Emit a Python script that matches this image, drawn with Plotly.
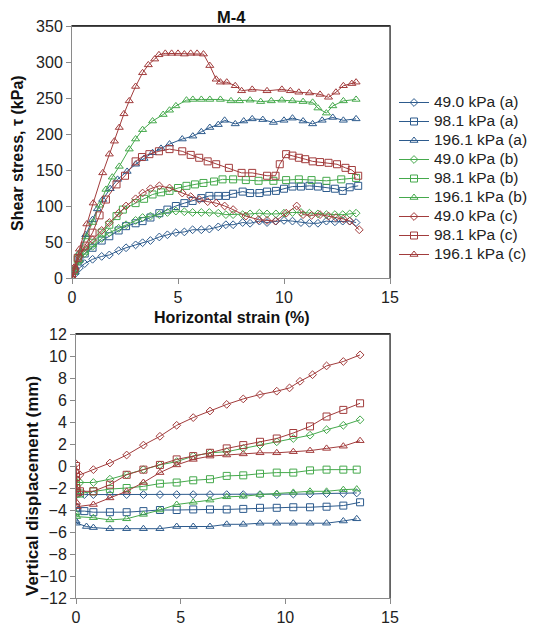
import plotly.graph_objects as go

# ---------------- data: shear stress vs horizontal strain ----------------
names = ["49.0 kPa (a)", "98.1 kPa (a)", "196.1 kPa (a)",
         "49.0 kPa (b)", "98.1 kPa (b)", "196.1 kPa (b)",
         "49.0 kPa (c)", "98.1 kPa (c)", "196.1 kPa (c)"]

tau_a49_x = [0, 0.15, 0.35, 0.6, 0.97, 1.4, 1.76, 2.2, 2.55, 3.0, 3.33, 3.7, 4.12, 4.5, 4.9, 5.3, 5.69, 6.1, 6.48, 6.9, 7.26, 7.6, 8.05, 8.4, 8.84, 9.2, 9.62, 10.0, 10.4, 10.8, 11.2, 11.6, 12.0, 12.4, 12.77, 13.1, 13.4]
tau_a49_y = [0, 6, 14, 20, 26, 30, 32, 38, 42, 46, 49, 52, 57, 60, 63, 64, 67, 67, 68, 71, 74, 74, 77, 76, 79, 77, 79, 80, 79, 77, 76, 76, 79, 78, 79, 79, 77]

tau_a98_x = [0, 0.15, 0.35, 0.6, 0.97, 1.4, 1.76, 2.2, 2.55, 3.0, 3.33, 3.7, 4.12, 4.5, 4.9, 5.3, 5.69, 6.1, 6.48, 6.9, 7.26, 7.6, 8.05, 8.4, 8.84, 9.2, 9.62, 10.0, 10.4, 10.8, 11.2, 11.6, 12.0, 12.4, 12.77, 13.1, 13.5]
tau_a98_y = [0, 10, 26, 34, 42, 52, 58, 66, 72, 76, 79, 84, 90, 95, 100, 104, 107, 111, 114, 114, 114, 117, 120, 118, 118, 120, 121, 124, 127, 127, 128, 127, 125, 124, 121, 126, 128]

tau_a196_x = [0, 0.1, 0.35, 0.65, 0.97, 1.2, 1.45, 1.8, 2.15, 2.6, 3.0, 3.4, 3.8, 4.2, 4.6, 5.2, 5.7, 6.1, 6.5, 6.9, 7.2, 7.7, 8.1, 8.5, 9.0, 9.5, 10.0, 10.4, 10.9, 11.35, 11.8, 12.3, 12.8, 13.4]
tau_a196_y = [0, 12, 35, 60, 81, 96, 109, 124, 137, 148, 158, 166, 174, 180, 186, 193, 197, 203, 209, 213, 219, 214, 218, 221, 220, 216, 219, 222, 218, 214, 219, 223, 219, 221]

tau_b49_x = [0, 0.15, 0.35, 0.6, 0.97, 1.4, 1.76, 2.2, 2.55, 3.0, 3.33, 3.7, 4.12, 4.5, 4.9, 5.3, 5.69, 6.1, 6.48, 6.9, 7.26, 7.6, 8.05, 8.4, 8.84, 9.2, 9.62, 10.0, 10.4, 10.8, 11.2, 11.6, 12.0, 12.4, 12.77, 13.1, 13.4]
tau_b49_y = [0, 10, 23, 34, 44, 55, 63, 69, 74, 80, 84, 86, 88, 91, 93, 92, 91, 91, 91, 90, 88, 88, 88, 89, 90, 89, 89, 90, 91, 91, 90, 89, 88, 88, 88, 89, 90]

tau_b98_x = [0, 0.1, 0.27, 0.6, 0.97, 1.4, 1.76, 2.1, 2.4, 3.0, 3.4, 3.8, 4.2, 4.6, 5.0, 5.4, 5.8, 6.2, 6.7, 7.1, 7.6, 8.2, 8.8, 9.5, 10.1, 10.7, 11.3, 12.0, 12.7, 13.4]
tau_b98_y = [0, 10, 26, 38, 49, 63, 74, 86, 95, 104, 110, 116, 119, 121, 125, 128, 130, 132, 134, 137, 137, 136, 135, 135, 136, 137, 136, 135, 137, 139]

tau_b196_x = [0, 0.1, 0.35, 0.65, 0.97, 1.3, 1.6, 1.9, 2.23, 2.7, 3.0, 3.33, 3.8, 4.3, 4.6, 4.9, 5.4, 5.7, 6.1, 6.5, 7.0, 7.5, 7.9, 8.4, 8.9, 9.4, 9.9, 10.4, 10.9, 11.35, 11.6, 12.0, 12.3, 12.8, 13.4]
tau_b196_y = [0, 12, 35, 57, 77, 101, 123, 140, 155, 179, 193, 206, 218, 227, 233, 239, 247, 248, 248, 248, 248, 246, 246, 247, 245, 246, 247, 246, 245, 244, 236, 229, 239, 246, 248]

tau_c49_x = [0, 0.15, 0.35, 0.6, 0.97, 1.4, 1.76, 2.2, 2.55, 3.0, 3.33, 3.7, 4.12, 4.6, 5.2, 5.6, 6.0, 6.4, 6.8, 7.2, 7.6, 8.2, 8.8, 9.2, 9.6, 10.1, 10.6, 10.9, 11.3, 11.7, 12.1, 12.45, 12.8, 13.1, 13.55]
tau_c49_y = [0, 12, 30, 42, 53, 66, 77, 90, 100, 110, 118, 124, 128, 125, 118, 113, 109, 106, 104, 100, 95, 86, 81, 80, 79, 90, 100, 88, 87, 88, 86, 84, 82, 79, 67]

tau_c98_x = [0, 0.1, 0.27, 0.6, 0.97, 1.3, 1.6, 2.1, 2.5, 3.0, 3.3, 3.65, 4.1, 4.6, 5.2, 5.6, 6.0, 6.4, 6.8, 7.4, 8.0, 8.5, 9.2, 9.6, 9.8, 10.1, 10.4, 10.7, 11.0, 11.35, 11.7, 12.1, 12.5, 12.9, 13.2, 13.5]
tau_c98_y = [0, 12, 28, 45, 63, 87, 109, 130, 142, 162, 168, 172, 176, 179, 176, 171, 167, 162, 158, 153, 146, 146, 142, 142, 158, 172, 170, 167, 165, 162, 161, 160, 158, 153, 150, 142]

tau_c196_x = [0, 0.1, 0.35, 0.7, 1.0, 1.45, 1.76, 2.0, 2.23, 2.45, 2.7, 3.0, 3.33, 3.6, 3.9, 4.1, 4.4, 4.7, 5.0, 5.3, 5.6, 5.9, 6.2, 6.5, 6.8, 7.0, 7.3, 7.7, 8.0, 8.5, 9.2, 9.9, 10.3, 10.7, 11.2, 11.7, 12.1, 12.45, 12.8, 13.2, 13.4]
tau_c196_y = [0, 15, 40, 75, 104, 146, 172, 190, 209, 228, 246, 266, 285, 296, 304, 310, 312, 312, 312, 311, 312, 312, 311, 295, 276, 272, 272, 267, 260, 262, 260, 262, 260, 258, 257, 255, 251, 258, 267, 270, 272]

# ---------------- data: vertical displacement vs horizontal strain ----------------
dv_a49_x = [0, 0.03, 0.4, 0.83, 1.62, 2.42, 3.22, 4.01, 4.81, 5.6, 6.4, 7.2, 7.99, 8.79, 9.59, 10.38, 11.18, 11.97, 12.77, 13.41]
dv_a49_y = [-2.3, -2.6, -2.6, -2.6, -2.6, -2.6, -2.6, -2.6, -2.6, -2.6, -2.6, -2.6, -2.6, -2.6, -2.6, -2.55, -2.55, -2.5, -2.5, -2.45]

dv_a98_x = [0, 0.03, 0.4, 0.83, 1.62, 2.42, 3.22, 4.01, 4.81, 5.6, 6.4, 7.2, 7.99, 8.79, 9.59, 10.38, 11.18, 11.97, 12.77, 13.57]
dv_a98_y = [-3.8, -4.1, -4.1, -4.2, -4.2, -4.2, -4.1, -4.0, -4.0, -3.95, -3.95, -3.95, -3.9, -3.8, -3.8, -3.75, -3.75, -3.7, -3.6, -3.3]

dv_a196_x = [0, 0.03, 0.5, 0.83, 1.62, 2.42, 3.22, 4.01, 4.81, 5.6, 6.4, 7.2, 7.99, 8.79, 9.59, 10.38, 11.18, 11.97, 12.77, 13.41]
dv_a196_y = [-5.0, -5.2, -5.5, -5.6, -5.7, -5.7, -5.7, -5.7, -5.5, -5.5, -5.5, -5.3, -5.3, -5.2, -5.2, -5.2, -5.2, -5.2, -5.0, -4.8]

dv_b49_x = [0, 0.03, 0.19, 0.83, 1.62, 2.42, 3.22, 4.01, 4.81, 5.6, 6.4, 7.2, 7.99, 8.79, 9.59, 10.38, 11.18, 11.97, 12.77, 13.57]
dv_b49_y = [-1.2, -1.5, -1.5, -1.5, -1.2, -0.8, -0.33, 0.1, 0.4, 0.9, 1.2, 1.3, 1.6, 1.9, 2.2, 2.5, 2.8, 3.3, 3.7, 4.2]

dv_b98_x = [0, 0.03, 0.19, 0.83, 1.62, 2.42, 3.22, 4.01, 4.81, 5.6, 6.4, 7.2, 7.99, 8.79, 9.59, 10.38, 11.18, 11.97, 12.77, 13.41]
dv_b98_y = [-1.8, -2.5, -2.5, -2.3, -2.1, -2.0, -1.85, -1.6, -1.5, -1.3, -1.2, -0.9, -0.85, -0.7, -0.6, -0.6, -0.4, -0.33, -0.33, -0.33]

dv_b196_x = [0, 0.03, 0.83, 1.62, 2.42, 3.22, 4.01, 4.81, 5.6, 6.4, 7.2, 7.99, 8.79, 9.59, 10.38, 11.18, 11.97, 12.77, 13.41]
dv_b196_y = [-4.3, -4.6, -4.7, -4.9, -4.8, -4.4, -4.0, -3.5, -3.3, -3.1, -2.8, -2.75, -2.6, -2.5, -2.4, -2.3, -2.3, -2.15, -2.1]

dv_c49_x = [0, 0, 0.02, 0.19, 0.83, 1.62, 2.42, 3.22, 4.01, 4.81, 5.6, 6.4, 7.2, 7.99, 8.79, 9.59, 10.2, 10.7, 11.3, 11.97, 12.77, 13.57]
dv_c49_y = [0.2, -0.5, -1.2, -0.8, -0.33, 0.27, 1.0, 1.9, 2.7, 3.7, 4.4, 5.0, 5.6, 6.1, 6.5, 6.8, 7.1, 7.7, 8.3, 9.1, 9.5, 10.1]

dv_c98_x = [0, 0, 0.02, 0.05, 0.19, 0.83, 1.62, 2.42, 3.22, 4.01, 4.81, 5.6, 6.4, 7.2, 7.99, 8.79, 9.59, 10.38, 11.18, 11.97, 12.77, 13.57]
dv_c98_y = [0, -1, -2, -2.4, -2.3, -2.3, -1.7, -0.8, -0.33, 0.1, 0.6, 0.9, 1.2, 1.6, 1.9, 2.2, 2.5, 3.0, 3.6, 4.5, 5.1, 5.7]

dv_c196_x = [0, 0, 0.02, 0.05, 0.83, 1.62, 2.42, 3.22, 4.01, 4.81, 5.6, 6.4, 7.2, 7.99, 8.79, 9.59, 10.38, 11.18, 11.97, 12.77, 13.57]
dv_c196_y = [-0.5, -2, -3.3, -3.7, -3.5, -2.9, -2.3, -1.5, -0.6, 0.1, 0.6, 0.9, 1.0, 1.1, 1.2, 1.2, 1.3, 1.4, 1.6, 1.8, 2.3]

x_ticks = [0, 5, 10, 15]
tau_ticks = [0, 50, 100, 150, 200, 250, 300, 350]
dv_ticks = [-12, -10, -8, -6, -4, -2, 0, 2, 4, 6, 8, 10, 12]

# ---------------- styling ----------------
BLUE, GREEN, RED = "#2d5b8d", "#45a94c", "#a23c3c"
colors = [BLUE, BLUE, BLUE, GREEN, GREEN, GREEN, RED, RED, RED]
symbols = ["diamond-open", "square-open", "triangle-up-open"] * 3
sizes = [6, 7, 7] * 3

tau_series = [(tau_a49_x, tau_a49_y), (tau_a98_x, tau_a98_y), (tau_a196_x, tau_a196_y),
              (tau_b49_x, tau_b49_y), (tau_b98_x, tau_b98_y), (tau_b196_x, tau_b196_y),
              (tau_c49_x, tau_c49_y), (tau_c98_x, tau_c98_y), (tau_c196_x, tau_c196_y)]
dv_series = [(dv_a49_x, dv_a49_y), (dv_a98_x, dv_a98_y), (dv_a196_x, dv_a196_y),
             (dv_b49_x, dv_b49_y), (dv_b98_x, dv_b98_y), (dv_b196_x, dv_b196_y),
             (dv_c49_x, dv_c49_y), (dv_c98_x, dv_c98_y), (dv_c196_x, dv_c196_y)]

FONT = "Liberation Sans, Arial, sans-serif"
fig = go.Figure()

for i, (xs, ys) in enumerate(tau_series):
    fig.add_trace(go.Scatter(
        x=xs, y=ys, mode="lines+markers", xaxis="x", yaxis="y",
        name='<span style="font-size:15.5px">' + names[i] + "</span>",
        line=dict(color=colors[i], width=1),
        marker=dict(symbol=symbols[i], size=sizes[i], color=colors[i], line=dict(width=1, color=colors[i])),
        showlegend=True))

for i, (xs, ys) in enumerate(dv_series):
    fig.add_trace(go.Scatter(
        x=xs, y=ys, mode="lines+markers", xaxis="x2", yaxis="y2",
        name=names[i],
        line=dict(color=colors[i], width=1),
        marker=dict(symbol=symbols[i], size=sizes[i], color=colors[i], line=dict(width=1, color=colors[i])),
        showlegend=False))

axis_common = dict(showgrid=False, zeroline=False, showline=True, linecolor="#8a8a8a",
                   linewidth=1, mirror=True, ticks="outside", ticklen=5, tickcolor="#8a8a8a",
                   automargin=False,
                   tickfont=dict(family=FONT, size=16, color="#222"))

# page body adds an 8px offset; positions below are in figure pixels
W, H = 540, 630
fig.update_layout(
    width=W, height=H,
    margin=dict(l=0, r=0, t=0, b=0, autoexpand=False),
    paper_bgcolor="white", plot_bgcolor="white",
    font=dict(family=FONT, color="#222"),
    xaxis=dict(domain=[64 / W, 382 / W], range=[0, 15], tickvals=x_ticks, anchor="y", **axis_common),
    yaxis=dict(domain=[1 - 270 / H, 1 - 18 / H], range=[0, 350], tickvals=tau_ticks, anchor="x", **axis_common),
    xaxis2=dict(domain=[68 / W, 382 / W], range=[0, 15], tickvals=x_ticks, anchor="y2", **axis_common),
    yaxis2=dict(domain=[1 - 590 / H, 1 - 326 / H], range=[-12, 12], tickvals=dv_ticks, anchor="x2", **axis_common),
    legend=dict(x=386 / W, y=1 - 80 / H, xanchor="left", yanchor="top",
                font=dict(family=FONT, size=11, color="#222"), bgcolor="rgba(0,0,0,0)",
                borderwidth=0),
    showlegend=True,
)

# darker top/right frame edges like the original
for xr, yr in (("x domain", "y domain"), ("x2 domain", "y2 domain")):
    fig.add_shape(type="line", xref=xr, yref=yr, x0=0, x1=1, y0=1, y1=1, line=dict(color="#111", width=1.5))
    fig.add_shape(type="line", xref=xr, yref=yr, x0=1, x1=1, y0=0, y1=1, line=dict(color="#555", width=1.5))

ann = dict(xref="paper", yref="paper", showarrow=False, xanchor="center", yanchor="middle")
fig.add_annotation(text="<b>M-4</b>", x=223 / W, y=1 - 9 / H,
                   font=dict(family=FONT, size=16.5, color="#111"), **ann)
fig.add_annotation(text="<b>Horizontal strain (%)</b>", x=224 / W, y=1 - 309 / H,
                   font=dict(family=FONT, size=16, color="#111"), **ann)
fig.add_annotation(text="<b>Shear stress, τ (kPa)</b>", x=10 / W, y=1 - 145 / H, textangle=-90,
                   font=dict(family=FONT, size=16, color="#111"), **ann)
fig.add_annotation(text="<b>Vertical displacement (mm)</b>", x=24 / W, y=1 - 478 / H, textangle=-90,
                   font=dict(family=FONT, size=17, color="#111"), **ann)

fig.write_html("out.html")
